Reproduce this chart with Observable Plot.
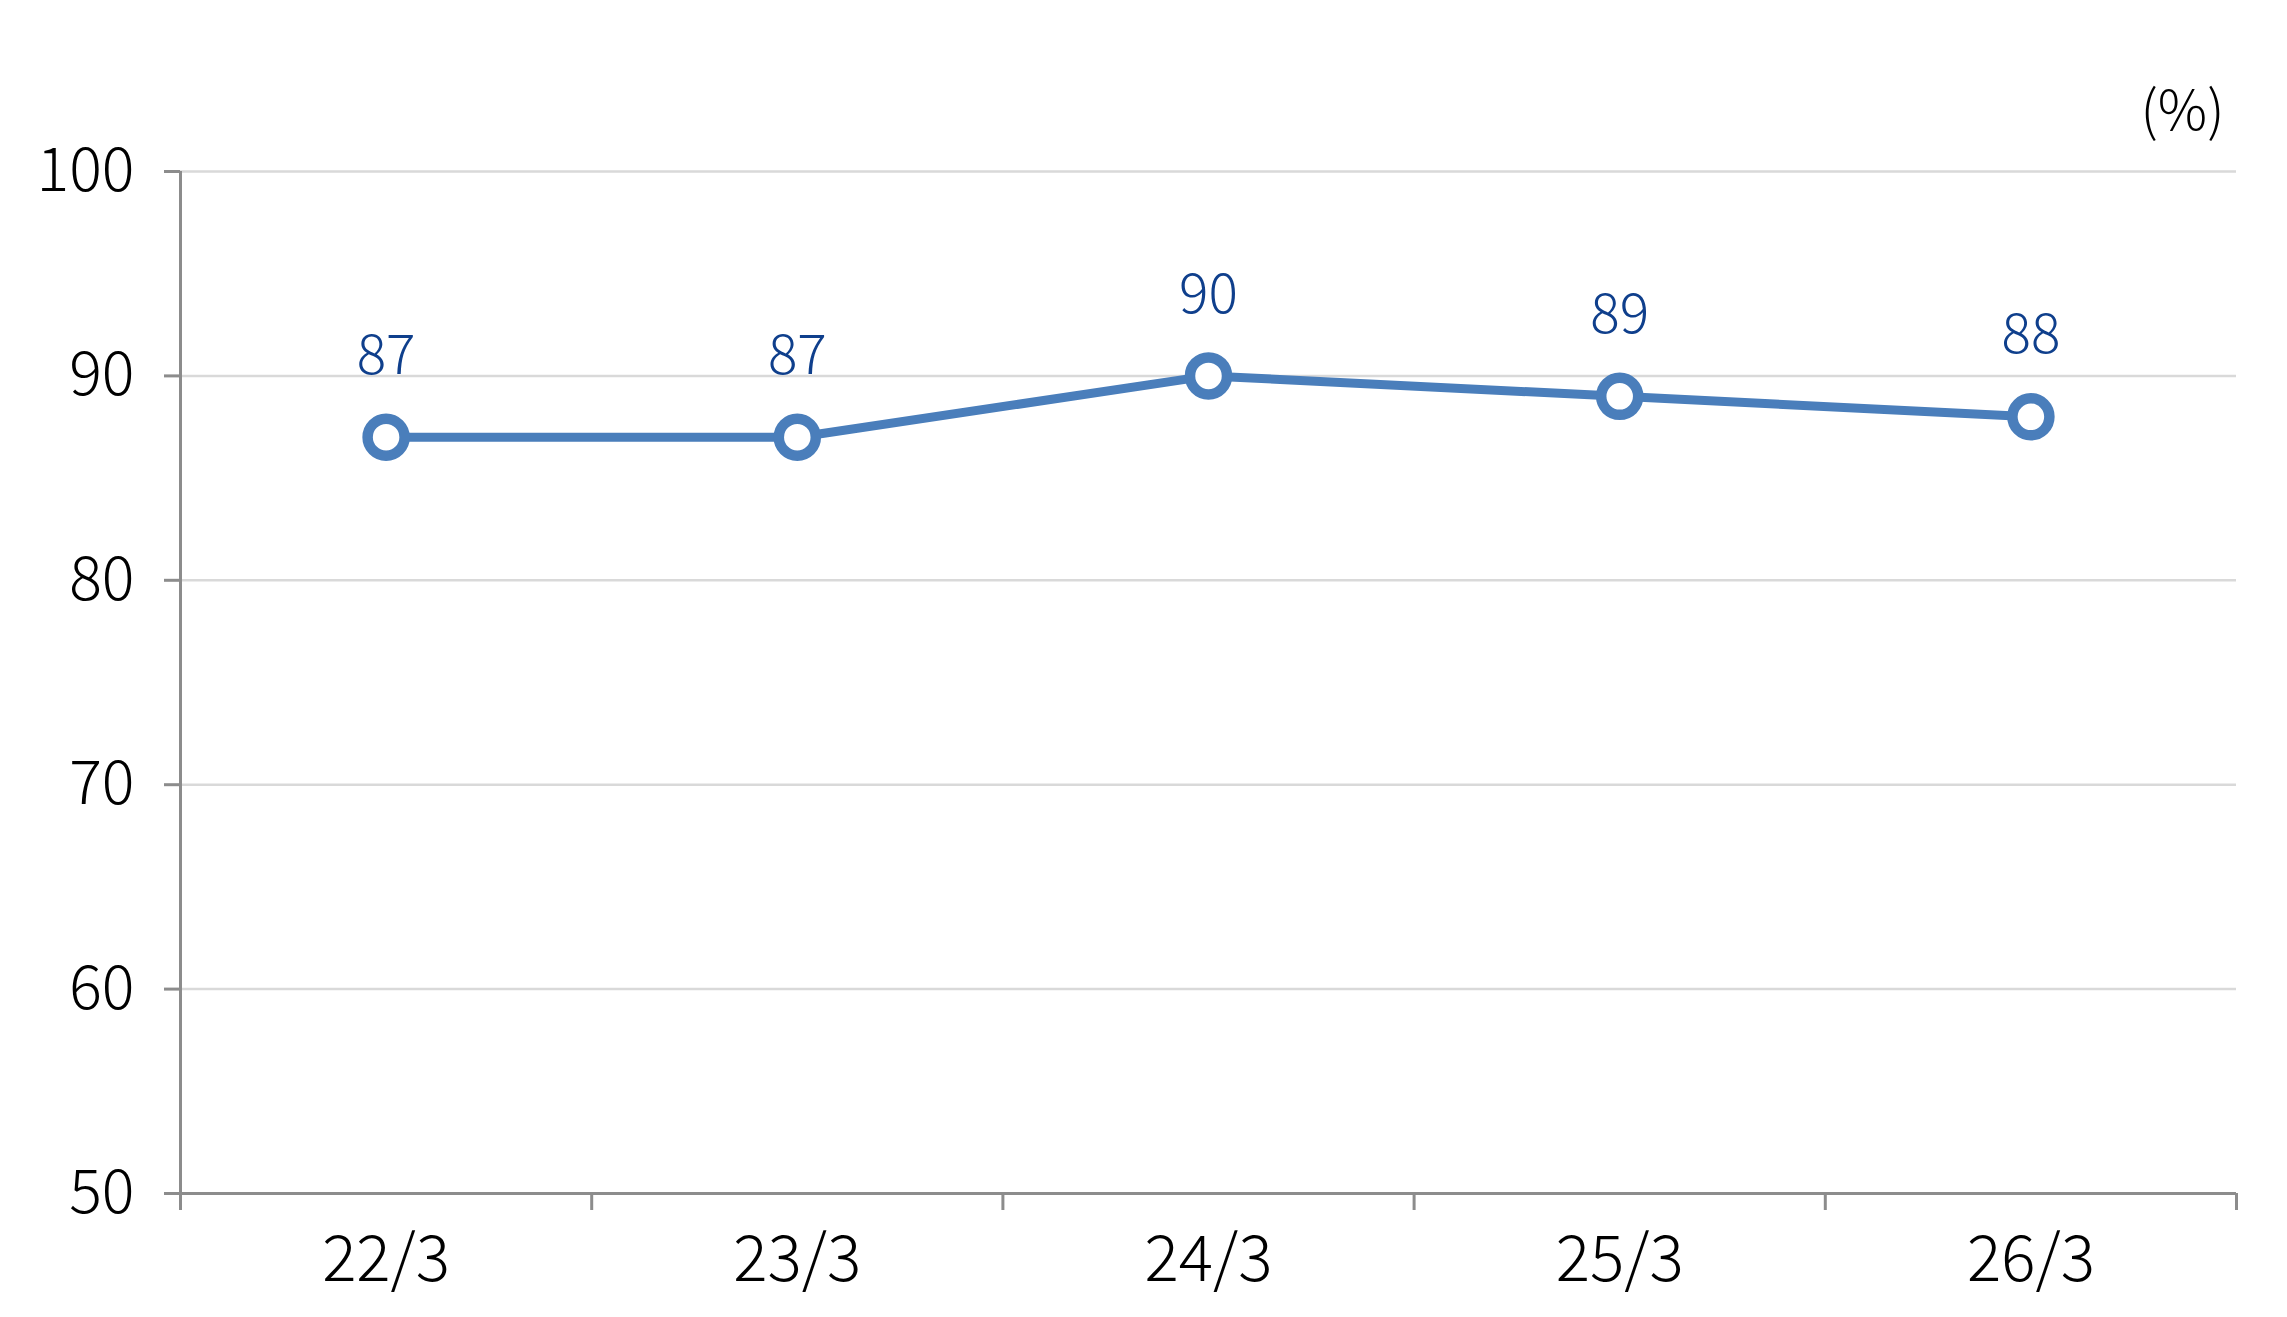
<!DOCTYPE html>
<html>
<head>
<meta charset="utf-8">
<script src="https://cdn.jsdelivr.net/npm/d3@7"></script>
<script src="https://cdn.jsdelivr.net/npm/@observablehq/plot@0.6"></script>
<style>
  html, body { margin: 0; padding: 0; background: #fff; }
</style>
</head>
<body>
<div id="chart"></div>
<script>
const categories = ["22/3", "23/3", "24/3", "25/3", "26/3"];
const values = [87, 87, 90, 89, 88];
const yTicks = [50, 60, 70, 80, 90, 100];
const unitLabel = "(%)";

const lineColor = "#4a7ebb";
const labelColor = "#0f3f8c";
const axisColor = "#8c8c8c";
const gridColor = "#d9d9d9";
const font = "'Noto Sans CJK KR', 'Noto Sans', sans-serif";

const data = categories.map((c, i) => ({cat: c, idx: i + 0.5, value: values[i]}));

const chart = Plot.plot({
  width: 2287,
  height: 1317,
  marginLeft: 180,
  marginRight: 51,
  marginTop: 171,
  marginBottom: 124,
  x: {domain: [0, categories.length], label: null},
  y: {domain: [50, 100], label: null},
  style: {fontFamily: font, fontWeight: 300, background: "#fff", overflow: "visible"},
  marks: [
    Plot.gridY(yTicks.filter(t => t > 50), {stroke: gridColor, strokeOpacity: 1, strokeWidth: 2.5}),
    Plot.ruleY([50], {stroke: axisColor, strokeWidth: 3}),
    Plot.ruleX([0], {stroke: axisColor, strokeWidth: 3}),
    Plot.axisY({ticks: yTicks, tickSize: 16, tickPadding: 30, fontSize: 61, stroke: axisColor, strokeWidth: 3, fill: "#000", label: null}),
    Plot.axisX({ticks: d3.range(categories.length + 1), tickSize: 17, tickFormat: () => "", stroke: axisColor, strokeWidth: 3, label: null}),
    Plot.axisX({ticks: data.map(d => d.idx), tickSize: 0, tickPadding: 42, tickFormat: v => categories[Math.floor(v)], fontSize: 64, fill: "#000", label: null}),
    Plot.line(data, {x: "idx", y: "value", stroke: lineColor, strokeWidth: 9}),
    Plot.dot(data, {x: "idx", y: "value", r: 18.5, fill: "#fff", stroke: lineColor, strokeWidth: 10.5}),
    Plot.text(data, {x: "idx", y: "value", text: d => String(d.value), dy: -81, fill: labelColor, fontSize: 55}),
    Plot.text([unitLabel], {frameAnchor: "top-right", text: d => d, dx: -12, dy: -81, fontSize: 55, fill: "#000", textAnchor: "end", letterSpacing: 7})
  ]
});

document.getElementById("chart").appendChild(chart);
</script>
</body>
</html>
